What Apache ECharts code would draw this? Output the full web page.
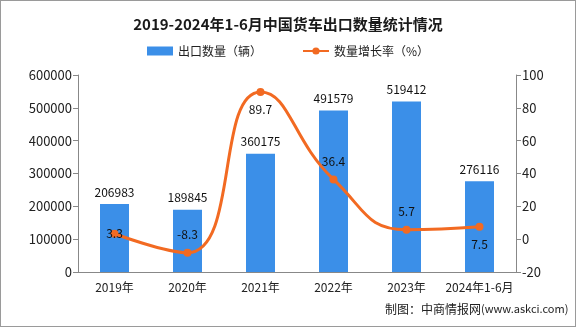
<!DOCTYPE html>
<html>
<head>
<meta charset="utf-8">
<script src="https://cdn.jsdelivr.net/npm/echarts@6/dist/echarts.min.js"></script>
<style>
html,body{margin:0;padding:0;background:#fff;}
#chart{width:576px;height:327px;box-sizing:border-box;border:1px solid #9a9a9a;}
</style>
</head>
<body>
<div id="chart"></div>
<script>
// 2019-2024年1-6月 中国货车出口数量与增长率
const categories = ['2019年', '2020年', '2021年', '2022年', '2023年', '2024年1-6月'];
const exportVolume = [206983, 189845, 360175, 491579, 519412, 276116];
const growthRate = [3.3, -8.3, 89.7, 36.4, 5.7, 7.5];
const leftTicks = [0, 100000, 200000, 300000, 400000, 500000, 600000];
const rightTicks = [-20, 0, 20, 40, 60, 80, 100];
const rateLabelPos = ['inside', 'top', 'bottom', 'top', 'top', 'bottom'];

const chart = echarts.init(document.getElementById('chart'), null, {renderer: 'canvas'});
const font = '"Noto Sans CJK SC", "DejaVu Sans", sans-serif';

chart.setOption({
  animation: false,
  textStyle: {fontFamily: font},
  title: {
    text: '2019-2024年1-6月中国货车出口数量统计情况',
    left: 'center',
    top: 11,
    textStyle: {fontSize: 15, fontWeight: 'bold', color: '#1a1a1a', fontFamily: font}
  },
  legend: {
    top: 39,
    left: 'center',
    itemGap: 40,
    itemWidth: 26,
    itemHeight: 9,
    textStyle: {fontSize: 12, color: '#222'},
    data: [
      {name: '出口数量（辆）', icon: 'rect'},
      {name: '数量增长率（%）'}
    ]
  },
  grid: {left: 77, right: 59, top: 74, bottom: 54},
  xAxis: {
    type: 'category',
    data: categories,
    axisLine: {lineStyle: {color: '#888'}},
    axisTick: {lineStyle: {color: '#888'}, length: 5},
    axisLabel: {color: '#222', fontSize: 12, margin: 9, interval: 0}
  },
  yAxis: [
    {
      type: 'value',
      min: leftTicks[0],
      max: leftTicks[leftTicks.length - 1],
      interval: 100000,
      axisLine: {show: true, lineStyle: {color: '#888'}},
      axisTick: {show: true, lineStyle: {color: '#888'}, length: 5},
      splitLine: {show: false},
      axisLabel: {color: '#222', fontSize: 13, margin: 6, formatter: v => String(v)}
    },
    {
      type: 'value',
      min: rightTicks[0],
      max: rightTicks[rightTicks.length - 1],
      interval: 20,
      axisLine: {show: true, lineStyle: {color: '#888'}},
      axisTick: {show: true, lineStyle: {color: '#888'}, length: 5},
      splitLine: {show: false},
      axisLabel: {color: '#222', fontSize: 13, margin: 6, formatter: v => String(v)}
    }
  ],
  series: [
    {
      name: '出口数量（辆）',
      type: 'bar',
      data: exportVolume,
      barWidth: 29,
      itemStyle: {color: '#3b8fe8'},
      label: {show: true, position: 'top', color: '#111', fontSize: 12, distance: 6}
    },
    {
      name: '数量增长率（%）',
      type: 'line',
      yAxisIndex: 1,
      smooth: 0.5,
      data: growthRate.map((v, i) => ({
        value: v,
        label: {position: rateLabelPos[i], distance: 8}
      })),
      symbol: 'circle',
      symbolSize: 8,
      lineStyle: {color: '#f26a22', width: 3},
      itemStyle: {color: '#f26a22'},
      label: {show: true, color: '#111', fontSize: 12}
    }
  ],
  graphic: [
    {
      type: 'text',
      left: 384,
      top: 302,
      style: {
        text: '{a|制图：中商情报网}{b|(www.askci.com)}',
        rich: {
          a: {fontSize: 12, fontFamily: font, fill: '#222', color: '#222'},
          b: {fontSize: 11, fontFamily: font, fill: '#222', color: '#222'}
        }
      }
    }
  ]
});
</script>
</body>
</html>
